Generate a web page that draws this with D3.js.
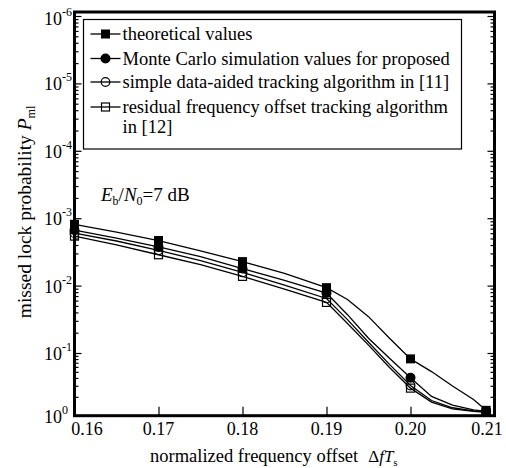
<!DOCTYPE html>
<html><head><meta charset="utf-8">
<script src="https://cdn.jsdelivr.net/npm/d3@7"></script>
<style>body{margin:0;background:#fff}svg{display:block}text{font-family:"Liberation Serif","Times New Roman",serif;fill:#000}</style>
</head><body><svg id="c" width="506" height="468"></svg>
<script>
// ---- data ----
const xValues = [0.16,0.165,0.17,0.175,0.18,0.185,0.19,0.1925,0.195,0.1975,0.20,0.2025,0.205,0.2075,0.209];
const markerX = [0.16,0.17,0.18,0.19,0.20,0.209];
const theoretical = [1.231e-3,1.611e-3,2.143e-3,3.048e-3,4.408e-3,6.597e-3,1.073e-2,1.605e-2,2.888e-2,6.044e-2,0.1241,0.1979,0.3366,0.5512,0.821];
const monteCarlo  = [1.506e-3,1.970e-3,2.665e-3,3.727e-3,5.577e-3,8.343e-3,1.291e-2,2.701e-2,6.044e-2,0.1209,0.2485,0.4918,0.679,0.806,0.853];
const simpleDA    = [1.666e-3,2.179e-3,2.997e-3,4.263e-3,6.378e-3,9.867e-3,1.552e-2,3.194e-2,6.914e-2,0.1518,0.3304,0.5725,0.7467,0.8367,0.8689];
const residualFO  = [1.842e-3,2.492e-3,3.486e-3,4.875e-3,7.295e-3,1.128e-2,1.776e-2,3.653e-2,7.644e-2,0.1701,0.3632,0.6060,0.7757,0.853,0.8858];
const seriesNames = ["theoretical values","Monte Carlo simulation values for proposed","simple data-aided tracking algorithm in [11]","residual  frequency offset tracking algorithm"];
const xTicks = [0.16,0.17,0.18,0.19,0.20,0.21];
const yMajor = [1,1e-1,1e-2,1e-3,1e-4,1e-5,1e-6];
const yExp = ["0","-1","-2","-3","-4","-5","-6"];

// ---- layout ----
const svg = d3.select("#c");
const L=74.5, R=494.5, T=12, B=415.7;
const x = d3.scaleLinear().domain([0.16,0.21]).range([L,R]);
const y = d3.scaleLog().domain([1,0.1,1e-6]).range([B,353,16]);

const yMinor=[];
for(let k=0;k<6;k++) for(let m=2;m<=9;m++) yMinor.push(Math.pow(10,-k)/m);

// axes ticks (inward)
const gL = svg.append("g").attr("transform",`translate(${L},0)`);
gL.call(d3.axisRight(y).tickValues(yMinor).tickSize(4).tickFormat(""));
gL.append("g").call(d3.axisRight(y).tickValues(yMajor).tickSize(7).tickFormat(""));
const gR = svg.append("g").attr("transform",`translate(${R},0)`);
gR.call(d3.axisLeft(y).tickValues(yMinor).tickSize(4).tickFormat(""));
gR.append("g").call(d3.axisLeft(y).tickValues(yMajor).tickSize(7).tickFormat(""));
const gB = svg.append("g").attr("transform",`translate(0,${B})`);
gB.call(d3.axisTop(x).tickValues(xTicks).tickSize(9).tickFormat(""));
svg.selectAll(".domain").remove();
svg.selectAll(".tick line").attr("stroke","#000").attr("stroke-width",1.2);

// frame
svg.append("rect").attr("x",L).attr("y",T).attr("width",R-L).attr("height",B-T)
  .attr("fill","none").attr("stroke","#000").attr("stroke-width",3);

// y tick labels
yMajor.forEach((v,i)=>{
  const by = Math.max(y(v)+7, 25);
  svg.append("text").attr("x",62).attr("y",by).attr("text-anchor","end").style("font-size","18px").text("10");
  svg.append("text").attr("x",62).attr("y",by-9).style("font-size","12px").text(yExp[i]);
});
// x tick labels
const shift = {0:12.5,5:-7.5};
xTicks.forEach((v,i)=>{
  svg.append("text").attr("x",x(v)+(shift[i]||0)).attr("y",435).attr("text-anchor","middle")
    .style("font-size","18px").text(d3.format(".2f")(v));
});

// axis titles
const xt = svg.append("text").attr("x",150).attr("y",462).style("font-size","18.5px");
xt.append("tspan").text("normalized frequency offset");
xt.append("tspan").attr("dx",10).style("font-size","17px").text("\u0394");
xt.append("tspan").style("font-style","italic").style("font-size","17px").text("fT");
xt.append("tspan").attr("dy",4).style("font-size","11px").text("s");

const yt = svg.append("text").attr("transform","translate(31,212) rotate(-90)").attr("text-anchor","middle").style("font-size","19.5px");
yt.append("tspan").text("missed lock probability ");
yt.append("tspan").style("font-style","italic").text("P");
yt.append("tspan").attr("dy",4).style("font-size","12px").text("ml");

// annotation
const an = svg.append("text").attr("x",101).attr("y",201).style("font-size","19px");
an.append("tspan").style("font-style","italic").text("E");
an.append("tspan").attr("dy",4).style("font-size","12px").text("b");
an.append("tspan").attr("dy",-4).text("/");
an.append("tspan").style("font-style","italic").text("N");
an.append("tspan").attr("dy",4).style("font-size","12px").text("0");
an.append("tspan").attr("dy",-4).text("=7 dB");

// curves
const allSeries=[theoretical,monteCarlo,simpleDA,residualFO];
const line = d3.line().x((d,i)=>x(xValues[i])).y(d=>y(d));
const markerIdx = markerX.map(v=>xValues.indexOf(v));
function drawMarker(g,kind,cx,cy){
  if(kind===0) g.append("rect").attr("x",cx-4.5).attr("y",cy-4.5).attr("width",9).attr("height",9).attr("fill","#000");
  else if(kind===1) g.append("circle").attr("cx",cx).attr("cy",cy).attr("r",5).attr("fill","#000");
  else if(kind===2) g.append("circle").attr("cx",cx).attr("cy",cy).attr("r",4.3).attr("fill","none").attr("stroke","#000").attr("stroke-width",1.2);
  else g.append("rect").attr("x",cx-4).attr("y",cy-4).attr("width",8).attr("height",8).attr("fill","none").attr("stroke","#000").attr("stroke-width",1.2);
}
allSeries.forEach((s,k)=>{
  svg.append("path").datum(s).attr("d",line).attr("fill","none").attr("stroke","#000").attr("stroke-width",1.3);
});
[3,2,0,1].forEach(k=>{
  const g=svg.append("g");
  markerIdx.forEach(i=>drawMarker(g,k,x(xValues[i]),y(allSeries[k][i])));
});

// legend
svg.append("rect").attr("x",83.5).attr("y",19.5).attr("width",378).attr("height",129.5)
  .attr("fill","#fff").attr("stroke","#000").attr("stroke-width",1.2);
const rowsY=[34,58.5,82,107];
seriesNames.forEach((n,k)=>{
  const g=svg.append("g");
  g.append("line").attr("x1",90.5).attr("x2",120.5).attr("y1",rowsY[k]).attr("y2",rowsY[k]).attr("stroke","#000").attr("stroke-width",1.3);
  drawMarker(g,k,105.5,rowsY[k]);
  g.append("text").attr("x",122.5).attr("y",rowsY[k]+6).style("font-size","18.5px").text(n);
});
svg.append("text").attr("x",122.5).attr("y",132.5).style("font-size","18.5px").text("in [12]");
</script></body></html>
